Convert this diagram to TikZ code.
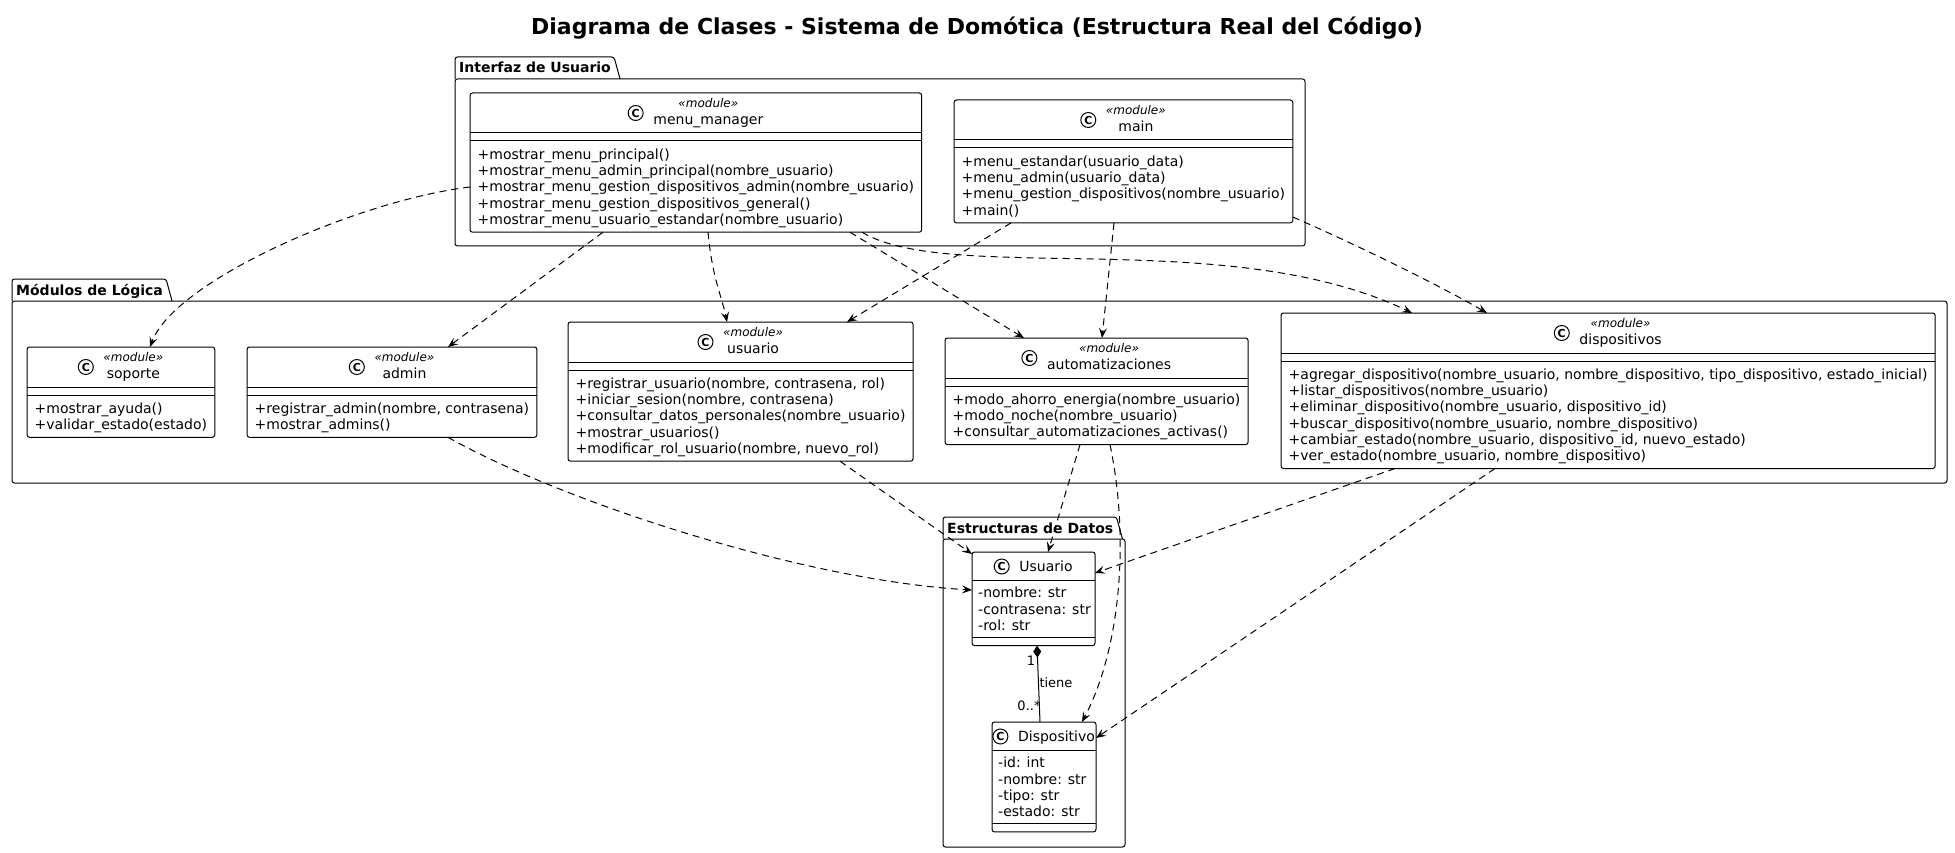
\documentclass[tikz,border=0pt]{standalone}
\usepackage{fontspec}
\setmainfont{DejaVu Sans}
\usetikzlibrary{arrows.meta,calc}

\newcommand\fm{\fontsize{14}{16.3}\selectfont}
\newcommand\fst{\fontsize{12}{14}\selectfont\itshape}

\tikzset{
  x=1pt, y=-1pt,
  clsbox/.style={draw, line width=1pt, rounded corners=2.5pt,
    anchor=north west, inner sep=0pt, outer sep=0pt},
  sepline/.style={line width=1pt},
  pkgline/.style={line width=1pt, rounded corners=2.5pt},
  pkglabel/.style={font=\fontsize{14}{16}\selectfont\bfseries, inner sep=0pt, anchor=base west},
  hdr/.style={font=\fontsize{14}{17}\selectfont, inner sep=0pt},
  hdrone/.style={font=\fm, inner sep=0pt, anchor=base},
  mtext/.style={font=\fm, inner sep=0pt, anchor=north west},
  lbl/.style={font=\fontsize{13}{15}\selectfont, inner sep=0pt},
  dep/.style={line width=1pt, dash pattern=on 7pt off 5pt,
    -{Stealth[length=10pt, width=8pt, inset=4pt]}},
}

\newcommand\Cicon[2]{%
  \coordinate (#1) at (#2);
  \draw[line width=1pt, fill=white] (#1) circle[radius=7.5pt];
  \node[font=\fontsize{11}{11}\selectfont\bfseries, inner sep=0pt] (#1-t) at (#1) {C};
}

% id, x0, y0, name, n, lines
\newcommand\ModClass[6]{%
  \pgfmathsetmacro\ch{74+(#5-1)*16.3}%
  \node[mtext] (#1-m) at (#2+7.5,#3+54.6) {\begin{tabular}{@{}l@{}}#6\end{tabular}};
  \path let \p1=(#1-m.east) in
    node[clsbox, minimum width={\x1-#2pt+7.5pt}, minimum height=\ch pt] (#1) at (#2,#3) {};
  \draw[sepline] ($(#1.north west)+(0,40)$) -- ($(#1.north east)+(0,40)$);
  \draw[sepline] ($(#1.north west)+(0,48)$) -- ($(#1.north east)+(0,48)$);
  \node[hdr] (#1-h) at ($(#1.north)+(0,20)$)
    {\hspace*{25pt}\begin{tabular}{@{}c@{}}{\fst «module»}\\#4\end{tabular}};
  \Cicon{#1-c}{$(#1-h.west)+(7.5,0)$}
}

% id, x0, y0, width, name, n, lines
\newcommand\DataClass[7]{%
  \pgfmathsetmacro\ch{61+(#6-1)*16.3}%
  \pgfmathsetmacro\sB{53+(#6-1)*16.3}%
  \node[clsbox, minimum width=#4pt, minimum height=\ch pt] (#1) at (#2,#3) {};
  \draw[sepline] ($(#1.north west)+(0,28.5)$) -- ($(#1.north east)+(0,28.5)$);
  \draw[sepline] ($(#1.north west)+(0,\sB)$) -- ($(#1.north east)+(0,\sB)$);
  \node[hdrone] (#1-h) at ($(#1.north)+(0,19.5)$) {\hspace*{25pt}#5};
  \Cicon{#1-c}{$(#1-h.base west)+(7.5,-5)$}
  \node[mtext] (#1-m) at ($(#1.north west)+(6,34.1)$) {\begin{tabular}{@{}l@{}}#7\end{tabular}};
}

% id, x0, tabTop, bodyTop, x1, y1, label
\newcommand\Pkg[7]{%
  \node[pkglabel] (#1) at (#2+4,#3+16) {#7};
  \draw[pkgline] let \p1=(#1.east) in
    (#2,#4) -- (#2,#3) -- (\x1+3pt,-#3pt) -- (\x1+9pt,-#4pt);
  \draw[pkgline] (#2,#4) rectangle (#5,#6);
}

\begin{document}
\begin{tikzpicture}
\fill[white] (0,0) rectangle (1955,853);
\useasboundingbox (0,0) rectangle (1955,853);

\node[font=\fontsize{22}{26}\selectfont\bfseries, inner sep=0pt] (title) at (977,28)
  {Diagrama de Clases - Sistema de Domótica (Estructura Real del Código)};

\Pkg{pkui}{455}{57}{79}{1305}{246}{Interfaz de Usuario}
\Pkg{pklog}{12}{279}{301}{1947}{483}{Módulos de Lógica}
\Pkg{pkdat}{943}{517}{539}{1125}{847}{Estructuras de Datos}

\ModClass{mm}{470}{93}{menu\_manager}{5}{+mostrar\_menu\_principal()\\+mostrar\_menu\_admin\_principal(nombre\_usuario)\\+mostrar\_menu\_gestion\_dispositivos\_admin(nombre\_usuario)\\+mostrar\_menu\_gestion\_dispositivos\_general()\\+mostrar\_menu\_usuario\_estandar(nombre\_usuario)}
\ModClass{main}{954}{100}{main}{4}{+menu\_estandar(usuario\_data)\\+menu\_admin(usuario\_data)\\+menu\_gestion\_dispositivos(nombre\_usuario)\\+main()}
\ModClass{soporte}{27}{347}{soporte}{2}{+mostrar\_ayuda()\\+validar\_estado(estado)}
\ModClass{admin}{247}{347}{admin}{2}{+registrar\_admin(nombre, contrasena)\\+mostrar\_admins()}
\ModClass{usuario}{568}{322}{usuario}{5}{+registrar\_usuario(nombre, contrasena, rol)\\+iniciar\_sesion(nombre, contrasena)\\+consultar\_datos\_personales(nombre\_usuario)\\+mostrar\_usuarios()\\+modificar\_rol\_usuario(nombre, nuevo\_rol)}
\ModClass{auto}{945}{338}{automatizaciones}{3}{+modo\_ahorro\_energia(nombre\_usuario)\\+modo\_noche(nombre\_usuario)\\+consultar\_automatizaciones\_activas()}
\ModClass{disp}{1281}{313}{dispositivos}{6}{+agregar\_dispositivo(nombre\_usuario, nombre\_dispositivo, tipo\_dispositivo, estado\_inicial)\\+listar\_dispositivos(nombre\_usuario)\\+eliminar\_dispositivo(nombre\_usuario, dispositivo\_id)\\+buscar\_dispositivo(nombre\_usuario, nombre\_dispositivo)\\+cambiar\_estado(nombre\_usuario, dispositivo\_id, nuevo\_estado)\\+ver\_estado(nombre\_usuario, nombre\_dispositivo)}

\DataClass{Usu}{972}{552}{123}{Usuario}{3}{-nombre: str\\-contrasena: str\\-rol: str}
\DataClass{Dis}{992}{722}{104}{Dispositivo}{4}{-id: int\\-nombre: str\\-tipo: str\\-estado: str}

% dependencies
\draw[dep] ($(mm.north west)+(0,94)$) .. controls +(-110,13) and +(25,-67) .. ($(soporte.north west)+(123,0)$);
\draw[dep] ($(mm.south west)+(133,0)$) -- ($(admin.north west)+(201,0)$);
\draw[dep] ($(mm.south west)+(238,0)$) .. controls +(4,45) and +(-5,-25) .. ($(usuario.north west)+(159,0)$);
\draw[dep] ($(mm.south west)+(380,0)$) -- ($(auto.north west)+(79,0)$);
\draw[dep] ($(mm.south west)+(392,0)$) .. controls +(88,53) and +(-182,-88) .. ($(disp.north west)+(131,0)$);
\draw[dep] ($(main.south west)+(57,0)$) -- ($(usuario.north west)+(279,0)$);
\draw[dep] ($(main.south west)+(160,0)$) -- ($(auto.north west)+(157,0)$);
\draw[dep] ($(main.north east)+(0,117)$) .. controls +(60,26) and +(-50,-29) .. ($(disp.north west)+(206,0)$);
\draw[dep] ($(admin.south west)+(201,0)$) .. controls +(112,63) and +(-172,-10) .. ($(Usu.north west)+(0,38)$);
\draw[dep] ($(usuario.south west)+(272,0)$) -- ($(Usu.north west)+(0,2)$);
\draw[dep] ($(auto.south west)+(135,0)$) -- ($(Usu.north west)+(76,0)$);
\draw[dep] ($(auto.south west)+(165,0)$) .. controls +(20,96) and +(38,-72) .. ($(Dis.north west)+(90,0)$);
\draw[dep] ($(disp.south west)+(114,0)$) -- ($(Usu.north east)+(0,21)$);
\draw[dep] ($(disp.south west)+(214,0)$) -- ($(Dis.north east)+(0,16)$);

% composition
\draw[line width=1pt, {Diamond[length=12pt, width=8pt]}-] ($(Usu.south)+(3.5,0)$) -- ($(Dis.north)+(-4,0)$);
\node[lbl] (mOne) at (1031,661) {1};
\node[lbl] (mMany) at (1029,706) {0..*};
\node[lbl] (mTiene) at (1056,683) {tiene};
\end{tikzpicture}
\end{document}
